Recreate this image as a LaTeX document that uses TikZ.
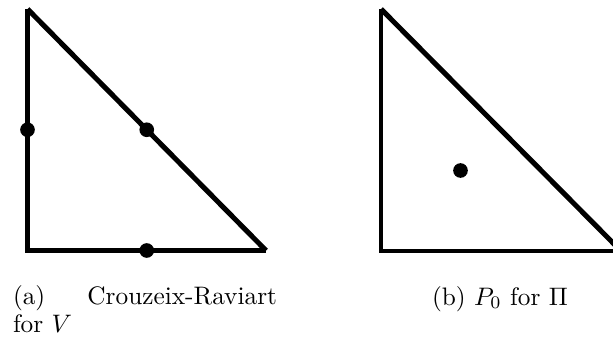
\documentclass[tikz,border=0pt]{standalone}
\usetikzlibrary{calc}
\begin{document}
\begin{tikzpicture}[x=0.3953pt,y=-0.3953pt,
  edge/.style={line width=1.6pt},
  hyp/.style={line width=2pt},
  dot/.style={circle,fill=black,inner sep=0pt,minimum size=5.8pt},
  captext/.style={inner sep=0pt}]
\useasboundingbox (0,0) rectangle (613,343);
% left triangle
\coordinate (A1) at (27.5,9);
\coordinate (B1) at (27.5,250.5);
\coordinate (C1) at (266,250.5);
\draw[edge] (A1) -- (B1) -- (C1);
\draw[hyp] (C1) -- (A1);
\node[dot] (d1) at ($(A1)!0.5!(B1)$) {};
\node[dot] (d2) at ($(A1)!0.5!(C1)$) {};
\node[dot] (d3) at ($(B1)!0.5!(C1)$) {};
% right triangle
\coordinate (A2) at (381,9);
\coordinate (B2) at (381,251);
\coordinate (C2) at (621,251);
\draw[edge] (A2) -- (B2) -- (C2);
\draw[hyp] (C2) -- (A2);
\node[dot] (d4) at (460.5,170.5) {};
% captions
\node[captext,anchor=base west] (ca) at (12.5,304) {(a)};
\node[captext,anchor=base east] (cb) at (277.5,304) {Crouzeix-Raviart};
\node[captext,anchor=base west] (cc) at (12.5,332) {for $V$};
\node[captext,anchor=base west] (cd) at (431.5,305) {(b) $P_0$ for $\Pi$};
\end{tikzpicture}
\end{document}
